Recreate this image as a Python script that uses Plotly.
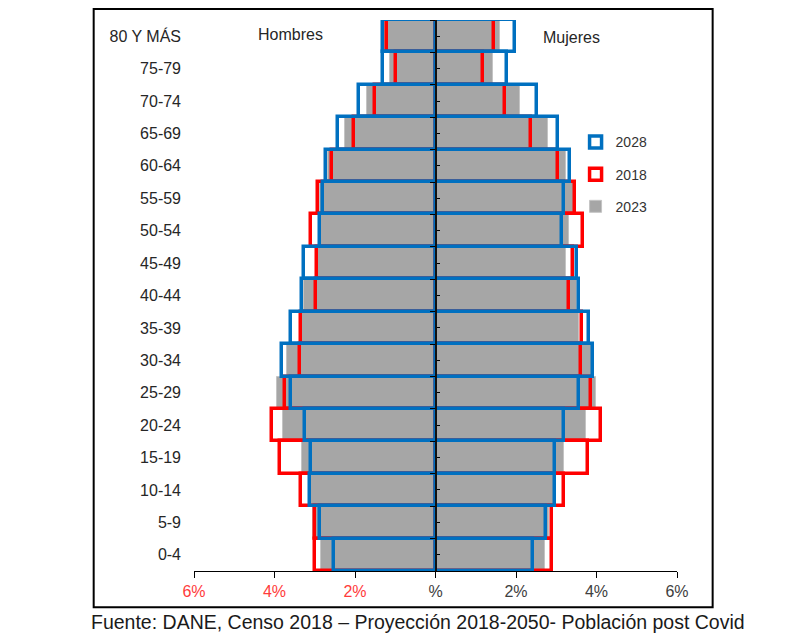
import plotly.graph_objects as go

# grupos de edad (de abajo hacia arriba)
edades = ['0-4', '5-9', '10-14', '15-19', '20-24', '25-29', '30-34', '35-39',
          '40-44', '45-49', '50-54', '55-59', '60-64', '65-69', '70-74', '75-79',
          '80 Y MÁS']

# % hombres
hombres_2018 = [3.00, 3.00, 3.35, 3.87, 4.06, 3.73, 3.36, 3.33, 2.96, 2.94,
                3.09, 2.92, 2.57, 2.03, 1.50, 0.97, 1.21]
hombres_2023 = [2.84, 3.04, 3.12, 3.32, 3.79, 3.93, 3.68, 3.37, 3.27, 2.95,
                2.88, 2.86, 2.67, 2.26, 1.69, 1.13, 1.27]
hombres_2028 = [2.53, 2.88, 3.13, 3.09, 3.25, 3.60, 3.81, 3.60, 3.31, 3.27,
                2.88, 2.80, 2.73, 2.43, 1.89, 1.30, 1.31]

# % mujeres
mujeres_2018 = [2.90, 2.90, 3.20, 3.80, 4.11, 3.87, 3.61, 3.65, 3.32, 3.42,
                3.66, 3.46, 3.05, 2.37, 1.73, 1.17, 1.46]
mujeres_2023 = [2.73, 2.81, 3.00, 3.20, 3.75, 3.98, 3.89, 3.56, 3.52, 3.23,
                3.32, 3.44, 3.25, 2.79, 2.10, 1.44, 1.61]
mujeres_2028 = [2.43, 2.75, 2.98, 2.98, 3.18, 3.56, 3.92, 3.81, 3.56, 3.51,
                3.15, 3.19, 3.34, 3.04, 2.53, 1.77, 1.98]

x_ticks = [-6, -4, -2, 0, 2, 4, 6]
x_labels = ['<span style="color:#ff3b3b">6%</span>',
            '<span style="color:#ff3b3b">4%</span>',
            '<span style="color:#ff3b3b">2%</span>',
            '%', '2%', '4%', '6%']

pos = list(range(len(edades)))
FONT = 'Arial, Liberation Sans, sans-serif'

fig = go.Figure()

series = [
    ('2023', hombres_2023, mujeres_2023, '#a6a6a6', '#c4c4c4', 1, 3, 'y'),
    ('2018', hombres_2018, mujeres_2018, 'rgba(0,0,0,0)', '#ff0000', 3.5, 2, 'y'),
    ('2028', hombres_2028, mujeres_2028, 'rgba(0,0,0,0)', '#0070c0', 3.5, 1, 'y2'),
]
for name, h, m, fill, line, lw, rank, yax in series:
    for vals, sign, show in ((h, -1, True), (m, 1, False)):
        fig.add_trace(go.Bar(
            x=[sign * v for v in vals],
            y=pos,
            orientation='h',
            width=1,
            name=name,
            legendgroup=name,
            legendrank=rank,
            showlegend=show,
            marker=dict(color=fill, line=dict(color=line, width=lw)),
            yaxis=yax,
        ))

fig.add_annotation(x=-3.6, y=0.973, xref='x', yref='paper', text='Hombres',
                   yanchor='middle', showarrow=False,
                   font=dict(size=16, color='#262626', family=FONT))
fig.add_annotation(x=3.38, y=0.968, xref='x', yref='paper', text='Mujeres',
                   yanchor='middle', showarrow=False,
                   font=dict(size=16, color='#262626', family=FONT))
fig.add_annotation(x=0.464, y=-0.093, xref='paper', yref='paper',
                   text='Fuente: DANE, Censo 2018 – Proyección 2018-2050- Población post Covid',
                   yanchor='middle', showarrow=False,
                   font=dict(size=19.5, color='#1a1a1a', family=FONT))

# marco negro
fig.add_shape(type='rect', xref='paper', yref='paper',
              x0=-0.2077, x1=1.0738, y0=-0.0659, y1=1.02,
              line=dict(color='black', width=2))

fig.update_layout(
    width=783, height=630,
    margin=dict(l=185.5, r=113.7, t=12, b=67.3),
    paper_bgcolor='white',
    plot_bgcolor='white',
    barmode='overlay',
    bargap=0,
    font=dict(family=FONT, color='#404040'),
    legend=dict(x=0.79, y=0.807, xanchor='left', yanchor='top',
                font=dict(size=14, color='#333333'),
                tracegroupgap=11, itemwidth=30, bgcolor='rgba(0,0,0,0)'),
    xaxis=dict(range=[-6, 6], tickvals=x_ticks, ticktext=x_labels,
               ticks='outside', ticklen=6, tickcolor='black',
               showline=True, linecolor='black', linewidth=1,
               showgrid=False, zeroline=False,
               tickfont=dict(size=16, color='#404040')),
    yaxis=dict(range=[-0.5, 16.5], tickvals=pos, ticktext=edades,
               showgrid=False, zeroline=False, showline=False,
               ticks='', ticklabelstandoff=12,
               tickfont=dict(size=16, color='#262626')),
    yaxis2=dict(range=[-0.5, 16.5], overlaying='y', anchor='free',
                position=0.5, side='left', showgrid=False, zeroline=False,
                showline=True, linecolor='#111111', linewidth=2,
                showticklabels=False, ticks='outside', ticklen=5,
                tickcolor='black', tick0=0.5, dtick=1,
                minor=dict(ticks='inside', ticklen=3, tickcolor='black',
                           tick0=0, dtick=1)),
)

fig.write_html('out.html')
